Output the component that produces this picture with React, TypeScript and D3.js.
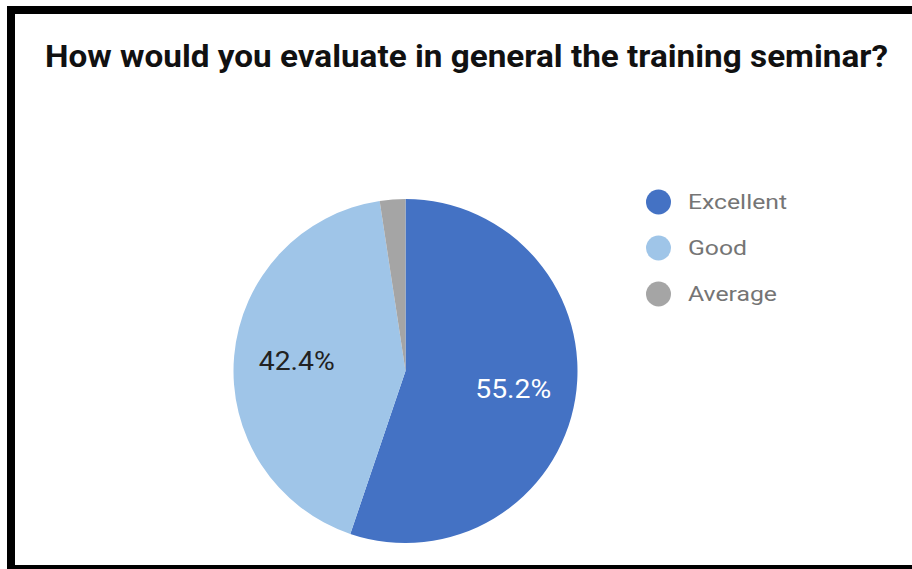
import React from "react";
import * as d3 from "d3";

const categories = ["Excellent", "Good", "Average"];
const values = [55.2, 42.4, 2.4];
const colors = ["#4472c4", "#9fc5e8", "#a5a5a5"];
const labelColors = ["#ffffff", "#222222", "#222222"];
const title = "How would you evaluate in general the training seminar?";

export default function App() {
  const W = 912, H = 569;
  const cx = 405.5, cy = 371, r = 172;
  const pie = d3.pie<number>().sort(null).value((d) => d)(values);
  const arc = d3.arc<d3.PieArcDatum<number>>().innerRadius(0).outerRadius(r);
  const labelArc = d3.arc<d3.PieArcDatum<number>>().innerRadius(r * 0.635).outerRadius(r * 0.635);
  const font = "Roboto, 'Liberation Sans', Arial, sans-serif";
  const legendWidths = [99, 59, 89];
  return (
    <svg width={W} height={H} style={{ position: "absolute", left: 0, top: 0 }} fontFamily={font}>
      <rect x={7} y={6} width={W} height={H} fill="#000" />
      <rect x={15} y={14} width={W} height={551} fill="#fff" />
      <text x={45} y={67.3} fontSize={31.5} fontWeight="bold" fill="#111" textLength={843} lengthAdjust="spacingAndGlyphs">{title}</text>
      <g transform={`translate(${cx},${cy})`}>
        {pie.map((p, i) => (
          <path key={i} d={arc(p) || ""} fill={colors[i]} />
        ))}
        {pie.map((p, i) => {
          if (p.data < 5) return null;
          const [lx, ly] = labelArc.centroid(p);
          return (
            <text key={"l" + i} x={lx} y={ly} textAnchor="middle" dominantBaseline="central" fontSize={25.5} fill={labelColors[i]} textLength={76} lengthAdjust="spacingAndGlyphs">
              {p.data.toFixed(1) + "%"}
            </text>
          );
        })}
      </g>
      {categories.map((c, i) => (
        <g key={c} transform={`translate(658.5,${202 + i * 46})`}>
          <circle r={12.5} fill={colors[i]} />
          <text x={29.5} y={0} dominantBaseline="central" fontSize={21} fill="#757575" textLength={legendWidths[i]} lengthAdjust="spacingAndGlyphs">{c}</text>
        </g>
      ))}
    </svg>
  );
}
